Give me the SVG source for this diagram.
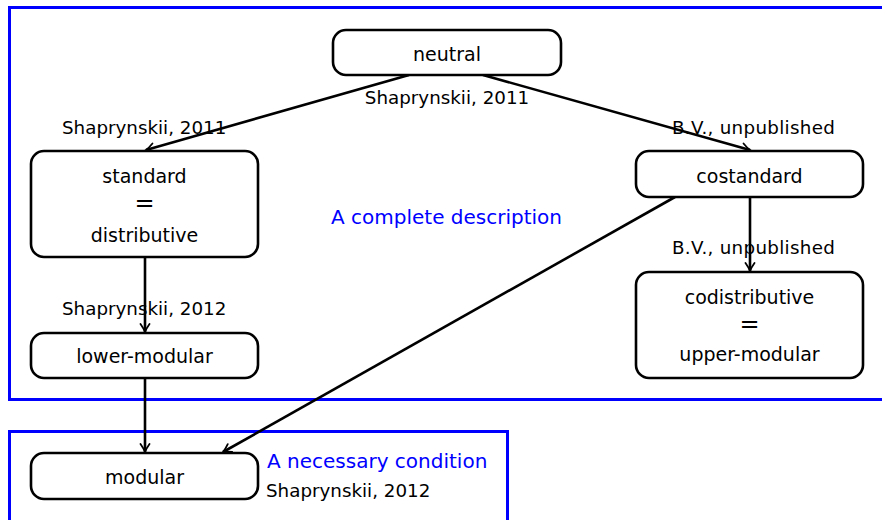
<svg xmlns="http://www.w3.org/2000/svg" width="882" height="520" viewBox="0 0 882 520">
<defs>
<marker id="arr" viewBox="-10 -6 12 12" refX="0" refY="0" markerWidth="12" markerHeight="12" markerUnits="userSpaceOnUse" orient="auto">
<path d="M-8,-4.5 Q-3,-1 0,0 Q-3,1 -8,4.5" fill="none" stroke="#000" stroke-width="1.8" stroke-linecap="round"/>
</marker>
<style>
.frame{fill:none;stroke:#0000ff;stroke-width:3}
.node{fill:#fff;stroke:#000;stroke-width:2.6}
.nt{font-family:"DejaVu Sans",sans-serif;font-size:19px;fill:#000;text-anchor:middle}
.eq{font-family:"DejaVu Sans",sans-serif;font-size:24px;fill:#000;text-anchor:middle}
.lb{font-family:"DejaVu Sans",sans-serif;font-size:18.3px;fill:#000}
.bl{font-family:"DejaVu Sans",sans-serif;font-size:20px;fill:#0000ff}
.edge{fill:none;stroke:#000;stroke-width:2.6;marker-end:url(#arr)}
</style>
</defs>
<rect width="882" height="520" fill="#fff"/>
<rect class="frame" x="9.5" y="7.5" width="880" height="392"/>
<rect class="frame" x="9.5" y="431.5" width="498" height="100"/>
<text class="bl" x="331" y="224">A complete description</text>
<text class="bl" x="267" y="468">A necessary condition</text>
<g id="connectors">
<line class="edge" x1="409" y1="75" x2="146" y2="150"/>
<line class="edge" x1="483" y1="75" x2="750" y2="150"/>
<line class="edge" x1="145" y1="257" x2="145" y2="332"/>
<line class="edge" x1="750" y1="197" x2="750" y2="271"/>
<line class="edge" x1="145" y1="378" x2="145" y2="452"/>
<line class="edge" x1="675" y1="197" x2="223" y2="452"/>
<text class="lb" x="62" y="134">Shaprynskii, 2011</text>
<text class="lb" x="447" y="104" text-anchor="middle">Shaprynskii, 2011</text>
<text class="lb" x="672" y="134" letter-spacing="0.3">B.V., unpublished</text>
<text class="lb" x="62" y="315">Shaprynskii, 2012</text>
<text class="lb" x="672" y="254" letter-spacing="0.3">B.V., unpublished</text>
<text class="lb" x="266" y="497">Shaprynskii, 2012</text>
</g>
<g id="neutral">
<rect class="node" x="333" y="30" width="228" height="45" rx="13"/>
<text class="nt" x="447" y="61">neutral</text>
</g>
<g id="standard">
<rect class="node" x="31" y="151" width="227" height="106" rx="13"/>
<text class="nt" x="144.5" y="183">standard</text>
<text class="eq" x="144.5" y="211">=</text>
<text class="nt" x="144.5" y="242">distributive</text>
</g>
<g id="costandard">
<rect class="node" x="636" y="151" width="227" height="46" rx="13"/>
<text class="nt" x="749.5" y="183">costandard</text>
</g>
<g id="lower-modular">
<rect class="node" x="31" y="333" width="227" height="45" rx="13"/>
<text class="nt" x="144.5" y="363">lower-modular</text>
</g>
<g id="codistributive">
<rect class="node" x="636" y="272" width="227" height="106" rx="13"/>
<text class="nt" x="749.5" y="304">codistributive</text>
<text class="eq" x="749.5" y="332">=</text>
<text class="nt" x="749.5" y="361">upper-modular</text>
</g>
<g id="modular">
<rect class="node" x="31" y="453" width="227" height="46" rx="13"/>
<text class="nt" x="144.5" y="484">modular</text>
</g>
</svg>
